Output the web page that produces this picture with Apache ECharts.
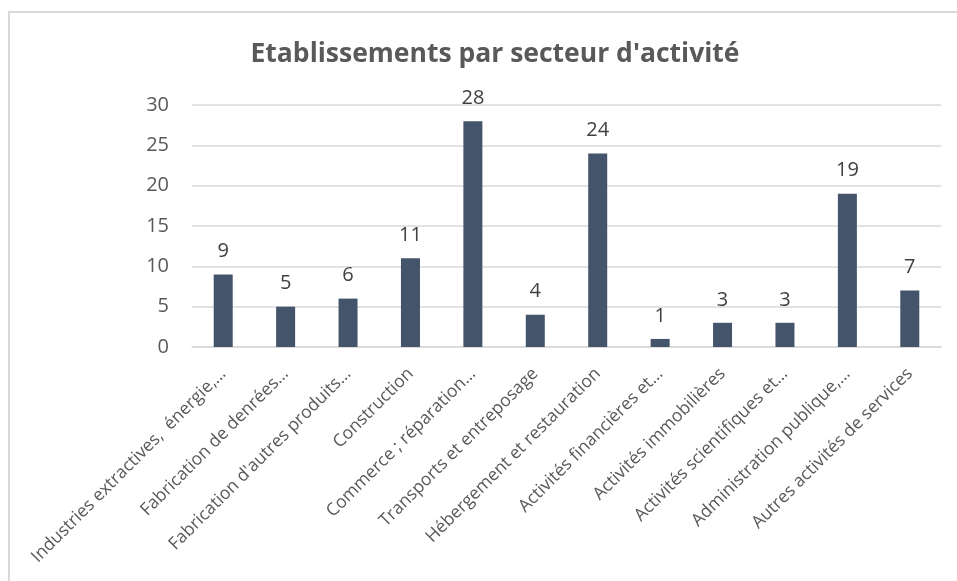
<!DOCTYPE html>
<html>
<head>
<meta charset="utf-8">
<script src="https://cdn.jsdelivr.net/npm/echarts@6/dist/echarts.min.js"></script>
<style>
 html, body { margin: 0; padding: 0; background: #fff; }
 #chart { width: 957px; height: 581px; }
</style>
</head>
<body>
<div id="chart"></div>
<script>
const categories = [
 'Industries extractives,  énergie,…',
 'Fabrication de denrées…',
 "Fabrication d'autres produits…",
 'Construction',
 'Commerce ; réparation…',
 'Transports et entreposage',
 'Hébergement et restauration',
 'Activités financières et…',
 'Activités immobilières',
 'Activités scientifiques et…',
 'Administration publique,…',
 'Autres activités de services'
]
const etablissements = [9, 5, 6, 11, 28, 4, 24, 1, 3, 3, 19, 7]
const yTicks = { min: 0, max: 30, interval: 5 }

const chart = echarts.init(document.getElementById('chart'))
const font = "'Open Sans', sans-serif"

chart.setOption({
 backgroundColor: '#fff',
 animation: false,
 graphic: [{
 type: 'rect',
 shape: { x: 9, y: 12, width: 1000, height: 1000 },
 style: { fill: 'none', stroke: '#d9d9d9', lineWidth: 2 },
 silent: true
 }],
 title: {
 text: "Etablissements par secteur d'activité",
 left: 490,
 textAlign: 'center',
 top: 36,
 textStyle: { fontFamily: font, fontSize: 26.5, fontWeight: 'bold', color: '#595959' }
 },
 grid: { left: 192, right: 16, top: 105, bottom: 234, containLabel: false },
 xAxis: {
 type: 'category',
 data: categories,
 axisLine: { lineStyle: { color: '#d9d9d9', width: 1.5 } },
 axisTick: { show: false },
 axisLabel: {
 interval: 0,
 rotate: 45,
 margin: 24,
 fontFamily: font,
 fontSize: 17.5,
 color: '#595959'
 }
 },
 yAxis: {
 type: 'value',
 min: yTicks.min,
 max: yTicks.max,
 interval: yTicks.interval,
 axisLine: { show: false },
 axisTick: { show: false },
 splitLine: { lineStyle: { color: '#d9d9d9', width: 1.5 } },
 axisLabel: { margin: 23, fontFamily: font, fontSize: 20, color: '#595959' }
 },
 series: [{
 type: 'bar',
 data: etablissements,
 barWidth: 19,
 itemStyle: { color: '#44546a' },
 label: {
 show: true,
 position: 'top',
 distance: 13,
 fontFamily: font,
 fontSize: 20,
 color: '#404040'
 }
 }]
})
</script>
</body>
</html>
